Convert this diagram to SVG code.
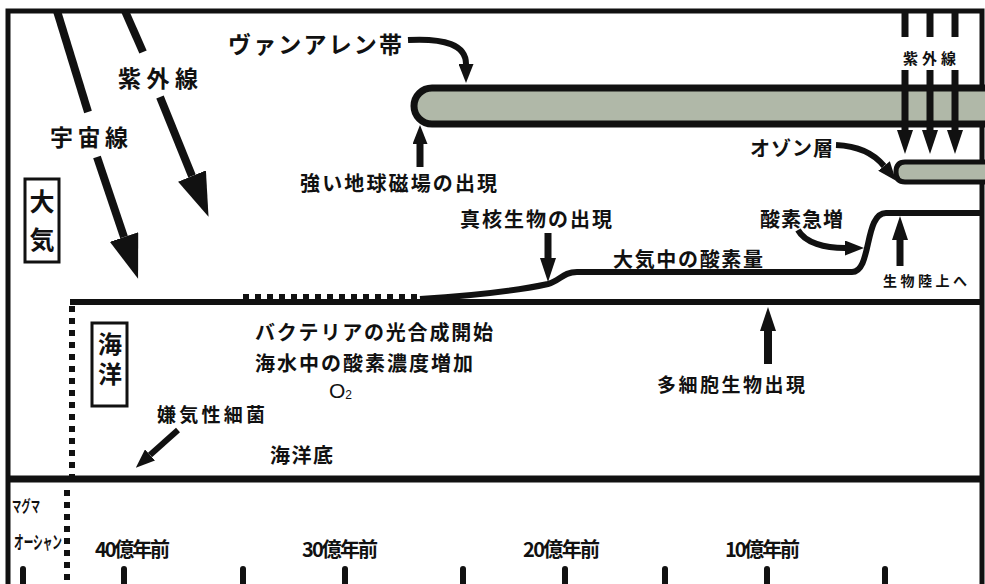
<svg xmlns="http://www.w3.org/2000/svg" width="985" height="584" viewBox="0 0 985 584">
<style>
.t{font-family:"Noto Sans CJK JP","Noto Sans",sans-serif;font-weight:bold;fill:#111;dominant-baseline:central}
.ln{fill:none;stroke:#111;stroke-linecap:butt}
.box{fill:#fff;stroke:#111;stroke-width:3}
.belt{fill:#b0b8a8;stroke:#111}
</style>
<defs>
<marker id="big" markerUnits="userSpaceOnUse" markerWidth="44" markerHeight="30" refX="0" refY="15" orient="auto" viewBox="0 0 44 30"><path d="M0,0 L44,15 L0,30 z" fill="#111"/></marker>
<marker id="mid" markerUnits="userSpaceOnUse" markerWidth="24" markerHeight="16" refX="0" refY="8" orient="auto" viewBox="0 0 24 16"><path d="M0,0 L24,8 L0,16 z" fill="#111"/></marker>
<marker id="sm" markerUnits="userSpaceOnUse" markerWidth="19" markerHeight="15" refX="0" refY="7.5" orient="auto" viewBox="0 0 19 15"><path d="M0,0 L19,7.5 L0,15 z" fill="#111"/></marker>
</defs>
<rect width="985" height="584" fill="#fff"/>
<g id="frame">
<rect x="8" y="11" width="974" height="590" fill="none" stroke="#111" stroke-width="5"/>
<line x1="8" y1="479" x2="982" y2="479" stroke="#111" stroke-width="7"/>
<line x1="70" y1="302" x2="982" y2="302" stroke="#111" stroke-width="6"/>
<line x1="243" y1="297" x2="420" y2="297" stroke="#111" stroke-width="6" stroke-dasharray="6 6"/>
<line x1="72" y1="306" x2="72" y2="478" stroke="#111" stroke-width="6" stroke-dasharray="6 6"/>
<line x1="67" y1="490" x2="67" y2="584" stroke="#111" stroke-width="6" stroke-dasharray="6 6"/>
</g>
<g id="axis" stroke="#111" stroke-width="6" stroke-linecap="round">
<line x1="23" y1="569" x2="23" y2="592"/>
<line x1="124" y1="569" x2="124" y2="592"/>
<line x1="243" y1="569" x2="243" y2="592"/>
<line x1="345" y1="569" x2="345" y2="592"/>
<line x1="463" y1="569" x2="463" y2="592"/>
<line x1="565" y1="569" x2="565" y2="592"/>
<line x1="665" y1="569" x2="665" y2="592"/>
<line x1="767" y1="569" x2="767" y2="592"/>
<line x1="885" y1="569" x2="885" y2="592"/>
</g>
<g id="oxygen-curve">
<path class="ln" stroke-width="6" d="M420,299 C470,296 520,290 548,284 C560,281 563,272 577,272 L852,272 C872,272 864,213 886,213 L982,213"/>
</g>
<g id="van-allen-belt">
<path class="belt" stroke-width="7" d="M986,88 L432,88 A18,18 0 0 0 432,124 L986,124"/>
</g>
<g id="ozone-layer">
<path class="belt" stroke-width="5" d="M986,162 L905,162 Q896,162 896,172 Q896,182 905,182 L986,182"/>
</g>
<g id="connectors">
<line class="ln" stroke-width="8" x1="57" y1="11" x2="88" y2="112"/>
<line class="ln" stroke-width="8" x1="97" y1="157" x2="124" y2="237" marker-end="url(#big)"/>
<line class="ln" stroke-width="8" x1="125" y1="11" x2="143" y2="52"/>
<line class="ln" stroke-width="8" x1="160" y1="97" x2="192" y2="176" marker-end="url(#big)"/>
<g stroke-width="7" class="ln">
<line x1="905" y1="10" x2="905" y2="37"/>
<line x1="930" y1="10" x2="930" y2="37"/>
<line x1="955" y1="10" x2="955" y2="37"/>
<line x1="905" y1="70" x2="905" y2="130" marker-end="url(#mid)"/>
<line x1="930" y1="70" x2="930" y2="130" marker-end="url(#mid)"/>
<line x1="955" y1="70" x2="955" y2="130" marker-end="url(#mid)"/>
</g>
<path class="ln" stroke-width="6" d="M408,40 C445,38 466,45 466,64" marker-end="url(#sm)"/>
<line class="ln" stroke-width="7" x1="420" y1="167" x2="420" y2="144" marker-end="url(#sm)"/>
<line class="ln" stroke-width="7" x1="548" y1="233" x2="548" y2="258" marker-end="url(#mid)"/>
<path class="ln" stroke-width="6" d="M836,145 C860,146 875,155 884,166" marker-end="url(#sm)"/>
<path class="ln" stroke-width="6" d="M798,230 C805,243 825,248 845,248" marker-end="url(#sm)"/>
<line class="ln" stroke-width="7" x1="900" y1="266" x2="900" y2="240" marker-end="url(#mid)"/>
<line class="ln" stroke-width="6" x1="178" y1="430" x2="150" y2="455" marker-end="url(#sm)"/>
<line class="ln" stroke-width="8" x1="768" y1="364" x2="768" y2="331" marker-end="url(#mid)"/>
</g>
<g id="label-atmosphere">
<rect class="box" x="25" y="179" width="34" height="83"/>
<text class="t" x="42" y="200" font-size="25" text-anchor="middle">大</text>
<text class="t" x="42" y="238" font-size="25" text-anchor="middle">気</text>
</g>
<g id="label-ocean">
<rect class="box" x="92" y="323" width="35" height="83"/>
<text class="t" x="110" y="332" font-size="24" writing-mode="vertical-rl" letter-spacing="6">海洋</text>
</g>
<g id="label-uv-left"><text class="t" x="118" y="77" font-size="23" textLength="80" lengthAdjust="spacing">紫外線</text></g>
<g id="label-cosmic"><text class="t" x="50" y="136" font-size="23" textLength="78" lengthAdjust="spacing">宇宙線</text></g>
<g id="label-vanallen"><text class="t" x="228" y="43" font-size="23" textLength="174" lengthAdjust="spacing">ヴァンアレン帯</text></g>
<g id="label-magnetic"><text class="t" x="300" y="182" font-size="20" textLength="197" lengthAdjust="spacing">強い地球磁場の出現</text></g>
<g id="label-eukaryote"><text class="t" x="460" y="218" font-size="20" textLength="152" lengthAdjust="spacing">真核生物の出現</text></g>
<g id="label-o2-atm"><text class="t" x="613" y="258" font-size="20" textLength="150" lengthAdjust="spacing">大気中の酸素量</text></g>
<g id="label-ozone"><text class="t" x="750" y="147" font-size="20" textLength="83" lengthAdjust="spacing">オゾン層</text></g>
<g id="label-o2-surge"><text class="t" x="760" y="218" font-size="20" textLength="83" lengthAdjust="spacing">酸素急増</text></g>
<g id="label-uv-right"><text class="t" x="903" y="57" font-size="15" textLength="53" lengthAdjust="spacing">紫外線</text></g>
<g id="label-land"><text class="t" x="883" y="280" font-size="14" textLength="84" lengthAdjust="spacing">生物陸上へ</text></g>
<g id="label-bacteria">
<text class="t" x="255" y="331" font-size="20" textLength="238" lengthAdjust="spacing">バクテリアの光合成開始</text>
<text class="t" x="255" y="362" font-size="20" textLength="218" lengthAdjust="spacing">海水中の酸素濃度増加</text>
<text x="329" y="398" font-family="Liberation Sans, Arial, sans-serif" font-size="21" fill="#111">O<tspan font-size="12" dy="1">2</tspan></text>
</g>
<g id="label-anaerobic"><text class="t" x="157" y="413" font-size="19" textLength="108" lengthAdjust="spacing">嫌気性細菌</text></g>
<g id="label-seafloor"><text class="t" x="270" y="454" font-size="20" textLength="63" lengthAdjust="spacing">海洋底</text></g>
<g id="label-multicell"><text class="t" x="657" y="383" font-size="19" textLength="148" lengthAdjust="spacing">多細胞生物出現</text></g>
<g id="label-magma">
<text class="t" x="12" y="505" font-size="16" textLength="28" lengthAdjust="spacingAndGlyphs">マグマ</text>
<text class="t" x="14" y="541" font-size="18" textLength="48" lengthAdjust="spacingAndGlyphs">オーシャン</text>
</g>
<g id="axis-labels">
<text class="t" x="95" y="548" font-size="20" textLength="75" lengthAdjust="spacing">40億年前</text>
<text class="t" x="302" y="548" font-size="20" textLength="76" lengthAdjust="spacing">30億年前</text>
<text class="t" x="523" y="548" font-size="20" textLength="77" lengthAdjust="spacing">20億年前</text>
<text class="t" x="725" y="548" font-size="20" textLength="75" lengthAdjust="spacing">10億年前</text>
</g>
</svg>
